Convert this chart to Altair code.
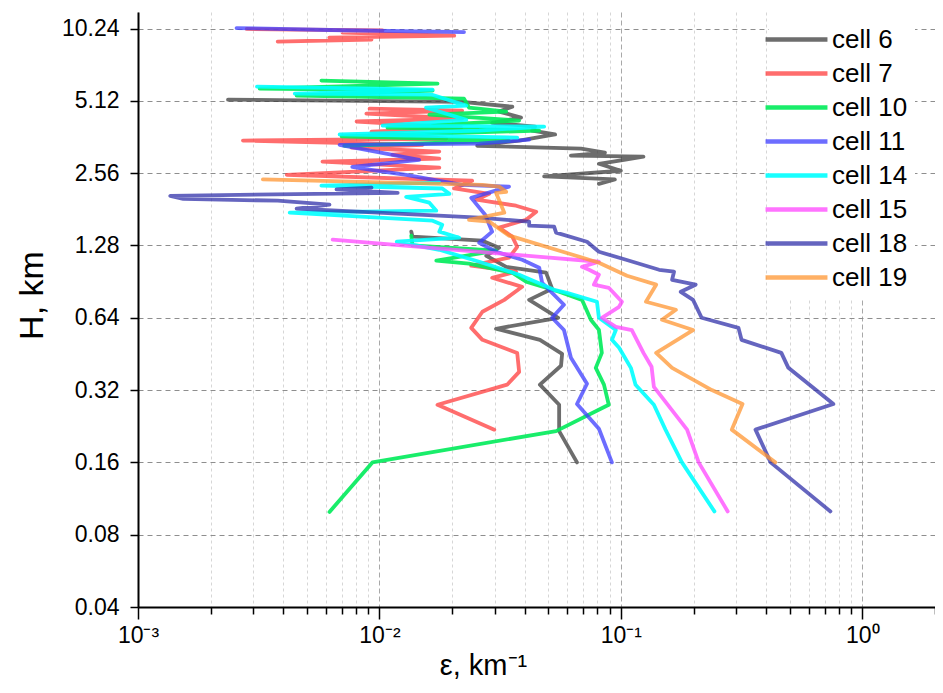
import altair as alt
import pandas as pd

CELLS = ["cell 6", "cell 7", "cell 10", "cell 11", "cell 14", "cell 15", "cell 18", "cell 19"]
COLORS = ["rgba(60,60,60,0.75)", "rgba(255,60,60,0.75)", "rgba(0,235,90,0.9)",
          "rgba(60,60,255,0.75)", "rgba(0,255,255,0.9)", "rgba(255,80,255,0.8)",
          "rgba(50,50,170,0.75)", "rgba(255,150,50,0.75)"]

# ---- cell 6 ----
c6a_eps = [0.0658, 0.0555, 0.0555, 0.0462, 0.0565, 0.0571, 0.0462, 0.0304, 0.0550, 0.0417,
           0.0519, 0.0490, 0.0335, 0.0277, 0.0313, 0.0267, 0.0137, 0.01355]
c6a_h = [0.16, 0.216, 0.278, 0.337, 0.404, 0.453, 0.518, 0.576, 0.64, 0.760,
         0.845, 0.986, 1.043, 1.160, 1.253, 1.340, 1.393, 1.461]
c6b_eps = [0.0811, 0.0944, 0.0481, 0.100, 0.0811, 0.103, 0.124, 0.0621, 0.0859, 0.0684,
           0.0254, 0.0379, 0.0534, 0.0429, 0.0441, 0.0293, 0.0386, 0.0313, 0.0355, 0.0220, 0.00236]
c6b_h = [2.31, 2.41, 2.48, 2.62, 2.80, 2.91, 3.00, 3.03, 3.12, 3.24,
         3.33, 3.50, 3.71, 3.85, 4.00, 4.15, 4.36, 4.62, 4.84, 5.07, 5.18]

# ---- cell 7 ----
c7a_eps = [0.0299, 0.0174, 0.0338, 0.0379, 0.0372, 0.0267, 0.0240, 0.0267, 0.0329, 0.0390,
           0.0293, 0.0368, 0.0240, 0.0344, 0.0372, 0.0355, 0.0313, 0.0405, 0.0446, 0.0368,
           0.0252, 0.0285, 0.0204, 0.0242, 0.00413, 0.0177, 0.00581, 0.0177, 0.0113, 0.0177,
           0.00766, 0.0151, 0.00272, 0.0189, 0.00927, 0.0218, 0.00804, 0.0220, 0.00883, 0.0220,
           0.00910]
c7a_h = [0.219, 0.278, 0.337, 0.381, 0.457, 0.518, 0.581, 0.678, 0.760, 0.861,
         0.939, 0.995, 1.054, 1.138, 1.264, 1.393, 1.518, 1.638, 1.769, 1.874,
         1.985, 2.10, 2.21, 2.38, 2.52, 2.70, 2.86, 2.94, 3.06, 3.15,
         3.27, 3.36, 3.50, 3.56, 3.81, 3.96, 4.20, 4.32, 4.53, 4.66,
         4.75]
c7b_eps = [0.00379, 0.00927, 0.0062, 0.0204, 0.00703, 0.0103, 0.00282]
c7b_h = [9.04, 9.22, 9.39, 9.57, 9.85, 10.05, 10.20]

# ---- cell 10 ----
c10a_eps = [0.00621, 0.00935, 0.0539, 0.0891, 0.0851, 0.0787, 0.0834, 0.0811, 0.0751, 0.0690,
            0.0555, 0.0405, 0.0355, 0.0235, 0.0172, 0.0304, 0.0137, 0.01355]
c10a_h = [0.0995, 0.16, 0.216, 0.278, 0.337, 0.396, 0.457, 0.570, 0.628, 0.760,
          0.821, 0.904, 0.986, 1.075, 1.106, 1.217, 1.28, 1.406]
c10b_eps = [0.00716, 0.0344, 0.00697, 0.0459, 0.0108, 0.0379, 0.0161, 0.0335, 0.0235, 0.0224,
            0.00454, 0.0166, 0.00319, 0.0174, 0.00575]
c10b_h = [3.33, 3.50, 3.64, 3.85, 3.96, 4.24, 4.49, 4.62, 4.80, 5.23,
          5.39, 5.65, 5.76, 6.04, 6.22]

# ---- cell 11 ----
c11a_eps = [0.0918, 0.0811, 0.0658, 0.0724, 0.0621, 0.0581, 0.0519, 0.0581, 0.0472, 0.0459,
            0.0390, 0.0304, 0.0259, 0.0293, 0.0274, 0.0240, 0.0344, 0.0220, 0.0129, 0.00910,
            0.00772, 0.0146, 0.00684, 0.0259, 0.0417]
c11a_h = [0.16, 0.221, 0.280, 0.340, 0.436, 0.569, 0.64, 0.725, 0.895, 1.034,
          1.116, 1.205, 1.314, 1.461, 1.719, 2.02, 2.25, 2.29, 2.52, 2.65,
          2.72, 2.91, 3.36, 3.40, 3.53]
c11b_eps = [0.0224, 0.00621, 0.00256]
c11b_h = [9.90, 10.10, 10.29]

# ---- cell 14 ----
c14a_eps = [0.244, 0.179, 0.153, 0.137, 0.115, 0.110, 0.0983, 0.0918, 0.0953, 0.0811,
            0.0796, 0.0598, 0.0529, 0.0379, 0.0259, 0.0177, 0.0118, 0.0214, 0.0177, 0.0182,
            0.0166, 0.00425, 0.0172, 0.0161, 0.0129, 0.0195, 0.0182, 0.00575, 0.0177]
c14a_h = [0.1, 0.16, 0.219, 0.278, 0.337, 0.396, 0.480, 0.518, 0.569, 0.64,
          0.746, 0.813, 0.837, 0.967, 1.095, 1.228, 1.327, 1.379, 1.461, 1.562,
          1.623, 1.752, 1.787, 1.929, 2.04, 2.10, 2.21, 2.27, 2.34]
c14b_eps = [0.0372, 0.00684, 0.0259, 0.0481, 0.0103, 0.0229, 0.0156, 0.0229, 0.0164, 0.00446,
            0.0166, 0.00311]
c14b_h = [3.60, 3.71, 3.85, 4.00, 4.04, 4.27, 4.80, 4.89, 5.44, 5.49,
          5.70, 5.87]

# ---- cell 15 ----
c15_eps = [0.277, 0.210, 0.188, 0.137, 0.134, 0.124, 0.111, 0.0953, 0.0834, 0.0983,
           0.101, 0.0891, 0.0773, 0.0811, 0.0738, 0.0690, 0.0811, 0.00640]
c15_h = [0.1, 0.16, 0.219, 0.330, 0.400, 0.457, 0.569, 0.587, 0.64, 0.711,
         0.746, 0.853, 0.879, 0.967, 1.014, 1.043, 1.095, 1.353]

# ---- cell 18 ----
c18_eps = [0.738, 0.417, 0.361, 0.759, 0.494, 0.462, 0.316, 0.307, 0.216, 0.199,
           0.177, 0.204, 0.163, 0.166, 0.144, 0.105, 0.0811, 0.0724, 0.0539, 0.0529,
           0.0417, 0.0417, 0.0259, 0.00454, 0.00621, 0.00379, 0.00154, 0.00136, 0.0119, 0.00664,
           0.00927]
c18_h = [0.1, 0.16, 0.219, 0.280, 0.396, 0.457, 0.518, 0.581, 0.64, 0.760,
         0.821, 0.879, 0.921, 0.995, 1.014, 1.116, 1.205, 1.327, 1.447, 1.532,
         1.547, 1.608, 1.670, 1.821, 1.892, 1.966, 2.00, 2.06, 2.12, 2.19,
         2.23]

# ---- cell 19 ----
c19_eps = [0.436, 0.288, 0.319, 0.238, 0.163, 0.140, 0.199, 0.148, 0.169, 0.127,
           0.140, 0.106, 0.0811, 0.0593, 0.0368, 0.0344, 0.0285, 0.0235, 0.0329, 0.0304,
           0.0335, 0.0313, 0.0267, 0.00329]
c19_h = [0.16, 0.219, 0.280, 0.32, 0.396, 0.457, 0.569, 0.628, 0.691, 0.746,
         0.879, 0.957, 1.085, 1.194, 1.379, 1.406, 1.608, 1.638, 1.752, 2.12,
         2.14, 2.25, 2.29, 2.41]

X_MAJOR = [0.001, 0.01, 0.1, 1]
X_MINOR = [0.002, 0.003, 0.004, 0.005, 0.006, 0.007, 0.008, 0.009,
           0.02, 0.03, 0.04, 0.05, 0.06, 0.07, 0.08, 0.09,
           0.2, 0.3, 0.4, 0.5, 0.6, 0.7, 0.8, 0.9, 2]
Y_TICKS = [0.04, 0.08, 0.16, 0.32, 0.64, 1.28, 2.56, 5.12, 10.24]

series = [
    ("cell 6", "6a", c6a_eps, c6a_h), ("cell 6", "6b", c6b_eps, c6b_h),
    ("cell 7", "7a", c7a_eps, c7a_h), ("cell 7", "7b", c7b_eps, c7b_h),
    ("cell 10", "10a", c10a_eps, c10a_h), ("cell 10", "10b", c10b_eps, c10b_h),
    ("cell 11", "11a", c11a_eps, c11a_h), ("cell 11", "11b", c11b_eps, c11b_h),
    ("cell 14", "14a", c14a_eps, c14a_h), ("cell 14", "14b", c14b_eps, c14b_h),
    ("cell 15", "15", c15_eps, c15_h),
    ("cell 18", "18", c18_eps, c18_h),
    ("cell 19", "19", c19_eps, c19_h),
]

rows = []
for cell, part, eps, h in series:
    assert len(eps) == len(h), part
    for i, (e, v) in enumerate(zip(eps, h)):
        rows.append({"cell": cell, "part": part, "i": i, "eps": e, "H": v})
df = pd.DataFrame(rows)

FONT = "Liberation Sans"
major_test = "datum.value == 0.001 || datum.value == 0.01 || datum.value == 0.1 || datum.value == 1"
label_expr = ("datum.value == 0.001 ? '10\u207b\u00b3' : datum.value == 0.01 ? '10\u207b\u00b2' : "
              "datum.value == 0.1 ? '10\u207b\u00b9' : datum.value == 1 ? '10\u2070' : ''")

x_axis = alt.Axis(
    values=X_MAJOR + X_MINOR, labelExpr=label_expr, labelOverlap=False, labelFlush=False,
    title="\u03b5, km\u207b\u00b9", titleFontSize=29, titleFont=FONT, titleFontWeight="normal",
    titleColor="black", titleX=345, titleY=67, titleBaseline="alphabetic", titleAlign="center",
    labelFont=FONT, labelFontSize=23, labelColor="black", labelPadding=5,
    domainColor="black", domainWidth=2, tickColor="black", tickWidth=1.5,
    tickSize={"condition": {"test": major_test, "value": 12}, "value": 7},
    grid=True,
    gridColor={"condition": {"test": major_test, "value": "#a8a8a8"}, "value": "#d6d6d6"},
    gridDash={"condition": {"test": major_test, "value": [5, 3]}, "value": [3, 3]},
    gridWidth=1,
)

y_axis = alt.Axis(
    values=Y_TICKS, format=".2f", labelFont=FONT, labelFontSize=23, labelColor="black",
    labelPadding=11, tickSize=8, tickColor="black", tickWidth=1.5,
    domainColor="black", domainWidth=2,
    grid=True, gridColor="#8e8e8e", gridDash=[5, 4], gridWidth=1,
    title="H, km", titleFont=FONT, titleFontSize=34, titleFontWeight="normal",
    titleColor="black", titleX=-106, titleY=283, titleAngle=270,
    titleBaseline="middle", titleAlign="center",
)

chart = alt.Chart(df).mark_line(strokeWidth=3.8, strokeJoin="round", strokeCap="round").encode(
    x=alt.X("eps:Q", scale=alt.Scale(type="log", domain=[0.001, 2], nice=False), axis=x_axis),
    y=alt.Y("H:Q", scale=alt.Scale(type="log", domain=[0.04, 12], nice=False), axis=y_axis),
    color=alt.Color(
        "cell:N",
        scale=alt.Scale(domain=CELLS, range=COLORS),
        legend=alt.Legend(
            title=None, orient="none", legendX=631, legendY=0, direction="vertical",
            symbolType="M-1.72,0L1.72,0", symbolSize=1296, symbolStrokeWidth=4.5,
            labelFont=FONT, labelFontSize=26, labelColor="black", labelOffset=15,
            fillColor="white", padding=7, rowPadding=0,
        ),
    ),
    detail="part:N",
    order="i:Q",
).properties(
    width=797, height=595,
    autosize=alt.AutoSizeParams(type="none"),
    padding={"left": 130, "top": 4, "right": 0, "bottom": 74},
).configure_view(strokeWidth=0)

chart.save("out.html", embed_options={"renderer": "svg", "actions": False})
